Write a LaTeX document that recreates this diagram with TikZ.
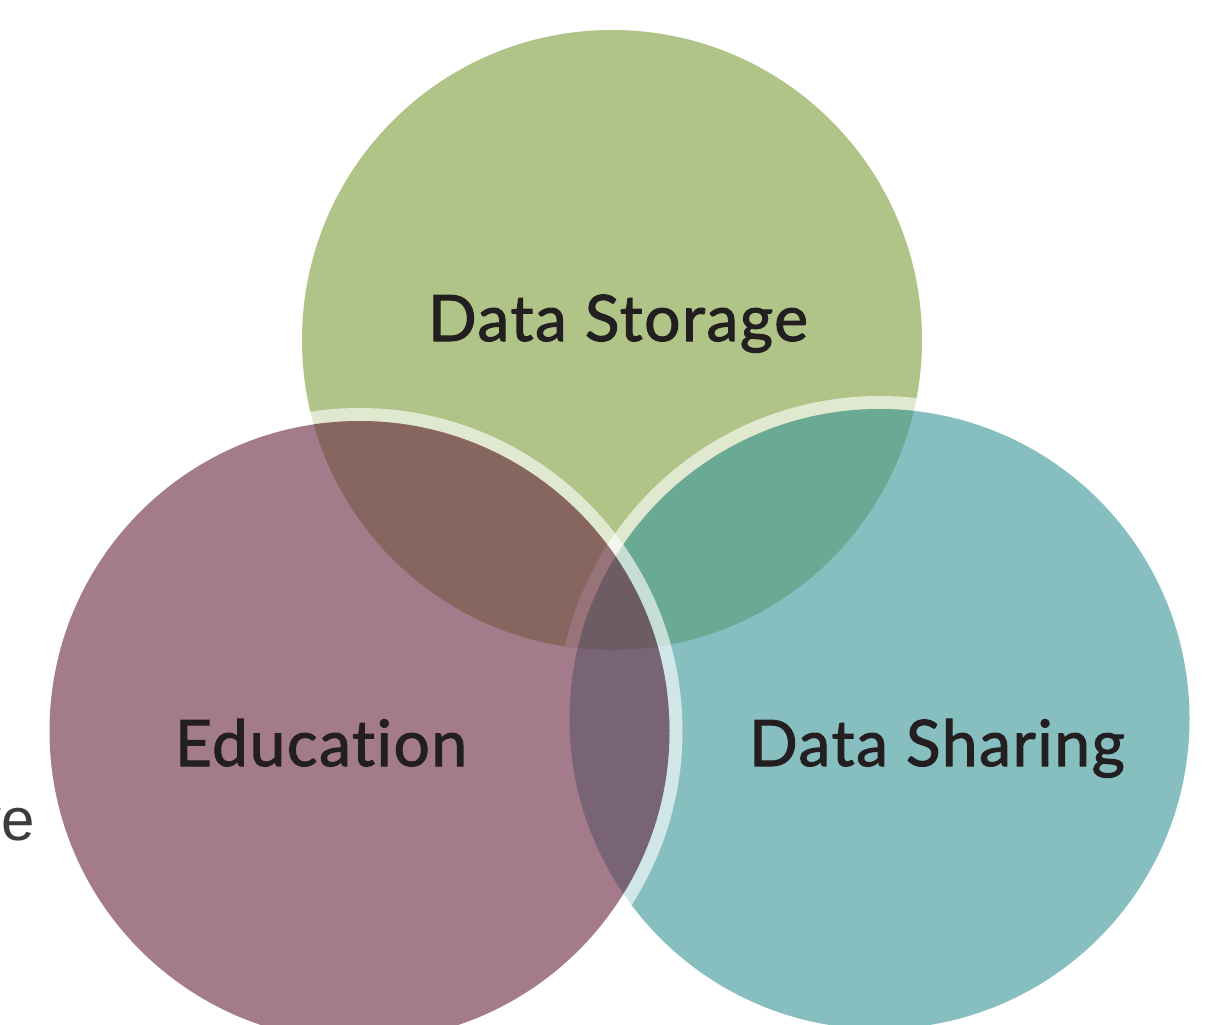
\documentclass[tikz,border=0pt]{standalone}
\usepackage{fontspec}
\setmainfont{Lato}
\newfontfamily\lblfont[FakeBold=1.6, LetterSpace=2.5, RawFeature={-liga}]{Lato}
\newfontfamily\vefont{Liberation Sans}
\definecolor{cgreen}{RGB}{175,196,134}
\definecolor{cteal}{RGB}{68,155,157}
\definecolor{cpurple}{RGB}{113,49,75}
\definecolor{ctext}{RGB}{35,31,32}
\definecolor{cve}{RGB}{60,60,60}
\tikzset{
  ring/.style={draw=white, draw opacity=0.62, line width=13pt},
  lbl/.style={anchor=base, text=ctext, font=\lblfont\fontsize{64}{64}\selectfont, inner sep=0pt},
}
\begin{document}
\begin{tikzpicture}[x=1pt,y=-1pt]
\useasboundingbox[fill=white] (0,0) rectangle (1213,1025);
% green circle (bottom layer)
\fill[cgreen] (612,340) circle[radius=310pt];
% teal circle with ring
\draw[ring] (879.5,719) circle[radius=316.5pt];
\fill[cteal, fill opacity=0.64] (879.5,719) circle[radius=310pt];
% purple circle with ring
\draw[ring] (359.5,731) circle[radius=316.5pt];
\fill[cpurple, fill opacity=0.64] (359.5,731) circle[radius=310pt];
% labels
\node[lbl] (storage) at (618,341) {Data Storage};
\node[lbl] (education) at (321,766) {Education};
\node[lbl] (sharing) at (937,766) {Data Sharing};
\node[anchor=base east, inner sep=0pt, text=cve, font=\vefont\fontsize{60}{60}\selectfont] (ve) at (35,840) {ve};
\end{tikzpicture}
\end{document}
